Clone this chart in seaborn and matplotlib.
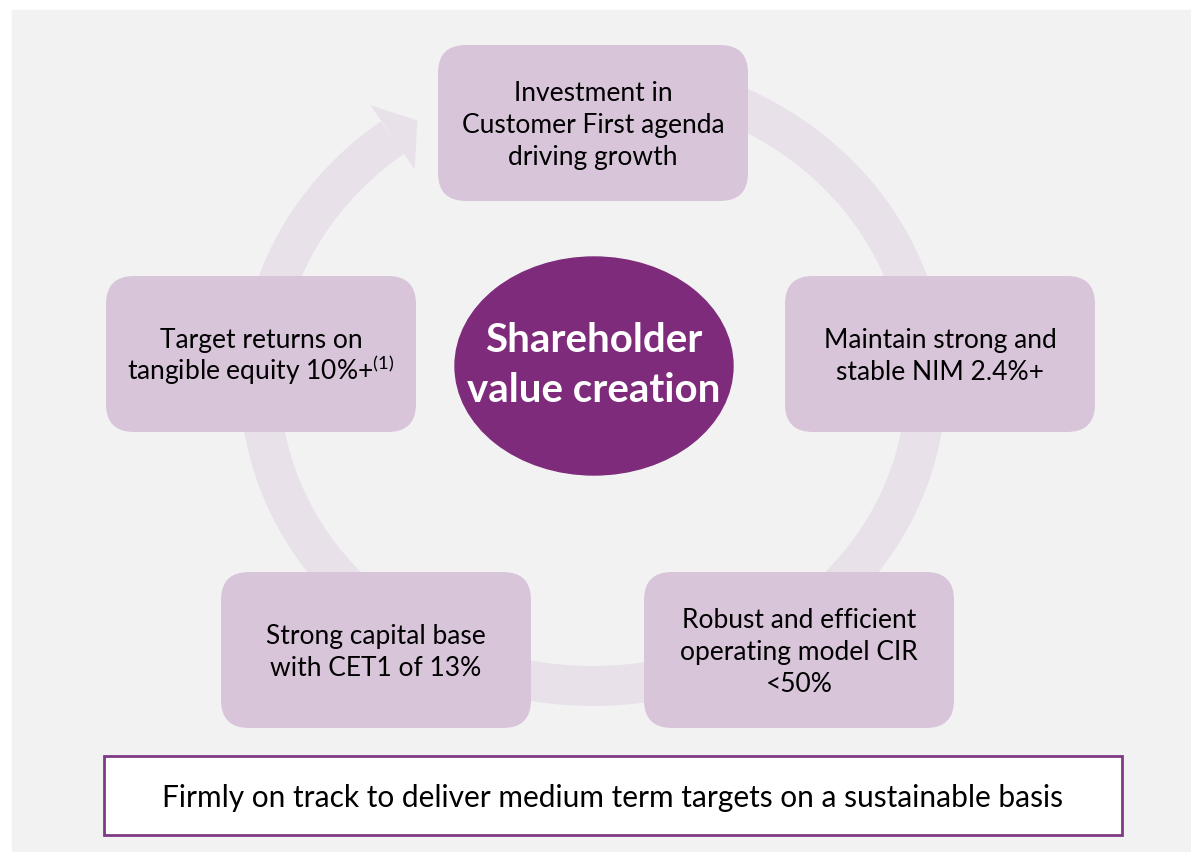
import numpy as np
import matplotlib
matplotlib.use("Agg")
import matplotlib.pyplot as plt
import seaborn as sns
from matplotlib.patches import FancyBboxPatch, Polygon, Ellipse, Rectangle

# content
center_label = ["Shareholder", "value creation"]
box_labels = [
    ["Investment in", "Customer First agenda", "driving growth"],
    ["Maintain strong and", "stable NIM 2.4%+"],
    ["Robust and efficient", "operating model CIR", "<50%"],
    ["Strong capital base", "with CET1 of 13%"],
    ["Target returns on", r"tangible equity 10%+$^{\mathrm{(1)}}$"],
]
footer_label = "Firmly on track to deliver medium term targets on a sustainable basis"

# layout (pixels)
box_centers = [(593, 124), (940, 355), (799, 651), (376, 651), (261, 355)]
BOX_W, BOX_H = 310, 156

BG = "#F2F2F2"
RING = "#E8E1EA"
BOX = "#D8C5DA"
PURPLE = "#7E2B7B"
FONT = "Lato"


def main():
    sns.set_theme(style="white")
    plt.rcParams["font.family"] = [FONT, "DejaVu Sans"]
    plt.rcParams["mathtext.fontset"] = "custom"
    plt.rcParams["mathtext.rm"] = FONT

    fig = plt.figure(figsize=(11.91, 8.53), dpi=100)
    fig.patch.set_facecolor("white")
    ax = fig.add_axes([0, 0, 1, 1])
    ax.set_xlim(0, 1191)
    ax.set_ylim(853, 0)
    ax.axis("off")

    # grey panel
    ax.add_patch(Rectangle((12, 11), 1179, 842, color=BG, zorder=0))

    # circular arrow (elliptical band)
    cx, cy, a, b, w = 593, 382, 333, 305, 20
    t = np.radians(np.linspace(100, 127 - 360, 400))
    outer = np.c_[cx + (a + w) * np.cos(t), cy - (b + w) * np.sin(t)]
    inner = np.c_[cx + (a - w) * np.cos(t), cy - (b - w) * np.sin(t)]
    ax.add_patch(Polygon(np.vstack([outer, inner[::-1]]), closed=True,
                         color=RING, lw=0, zorder=1))
    te = np.radians(127)
    base = np.array([cx + a * np.cos(te), cy - b * np.sin(te)])
    tan = np.array([a * np.sin(te), b * np.cos(te)])
    tan = tan / np.linalg.norm(tan)
    nrm = np.array([tan[1], -tan[0]])
    head = [base + 30 * tan, base + 39 * nrm, base - 39 * nrm]
    ax.add_patch(Polygon(head, closed=True, color=RING, lw=0, zorder=1))

    # boxes
    pitch, cap = 32, 18
    for (bx, by), lines in zip(box_centers, box_labels):
        ax.add_patch(FancyBboxPatch((bx - BOX_W / 2, by - BOX_H / 2), BOX_W, BOX_H,
                                    boxstyle="round,pad=0,rounding_size=28",
                                    fc=BOX, ec="none", zorder=2))
        n = len(lines)
        for i, line in enumerate(lines):
            y = by + (i - (n - 1) / 2) * pitch + cap / 2
            ax.text(bx, y, line, ha="center", va="baseline", fontsize=19,
                    color="black", zorder=3)

    # centre ellipse
    ax.add_patch(Ellipse((594, 367), 278, 218, color=PURPLE, zorder=2))
    for i, line in enumerate(center_label):
        ax.text(594, 352 + i * 50, line, ha="center", va="baseline", fontsize=29,
                fontweight="bold", color="white", zorder=3)

    # footer
    ax.add_patch(Rectangle((104, 757), 1018, 79, fc="white", ec="#7F3A86",
                           lw=2, zorder=2))
    ax.text(613, 807, footer_label, ha="center", va="baseline", fontsize=21.5,
            color="black", zorder=3)

    fig.savefig("out.png", dpi=100, facecolor=fig.get_facecolor())


if __name__ == "__main__":
    main()
